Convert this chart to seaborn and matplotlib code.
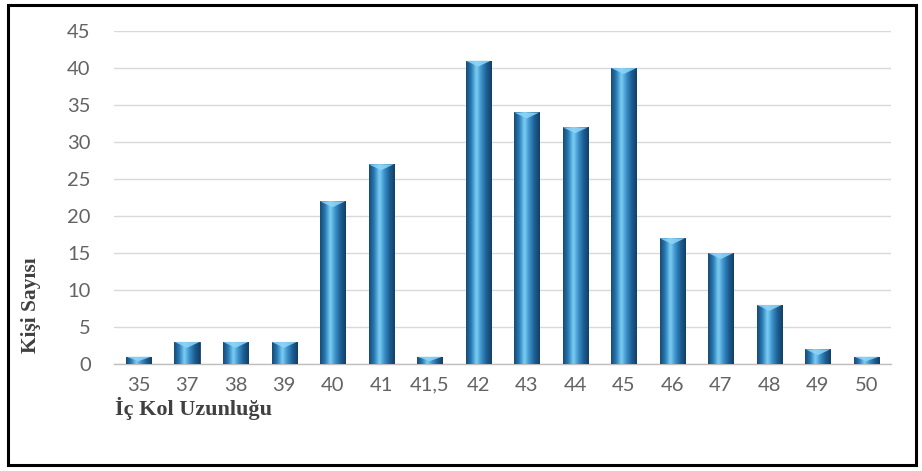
import numpy as np
import pandas as pd
import matplotlib
matplotlib.use("Agg")
import matplotlib.pyplot as plt
from matplotlib.colors import LinearSegmentedColormap
from matplotlib.patches import Rectangle, Polygon
import seaborn as sns

sns.set_style("white")

categories = ["35", "37", "38", "39", "40", "41", "41,5", "42", "43", "44",
              "45", "46", "47", "48", "49", "50"]
counts = [1, 3, 3, 3, 22, 27, 1, 41, 34, 32, 40, 17, 15, 8, 2, 1]

df = pd.DataFrame({"uzunluk": categories, "kisi": counts})

fig = plt.figure(figsize=(9.22, 4.71), dpi=100)
ax = fig.add_axes([0.124, 0.227, 0.842, 0.707])

sns.barplot(data=df, x="uzunluk", y="kisi", order=categories,
            color="#2a78b4", width=0.52, ax=ax, zorder=3)

# cylinder-like shading on each bar
cyl = LinearSegmentedColormap.from_list(
    "cyl", ["#164a75", "#2a7bb6", "#7ccff4", "#3a8fc8", "#1d5f93", "#123f66"])
grad = np.linspace(0, 1, 64).reshape(1, -1)
for p in list(ax.patches):
    x0, y0 = p.get_x(), p.get_y()
    w, h = p.get_width(), p.get_height()
    im = ax.imshow(grad, cmap=cyl, aspect="auto", zorder=3,
                   extent=[x0, x0 + w, y0, y0 + h], interpolation="bicubic")
    im.set_clip_path(p)
    p.set_edgecolor("#12406a")
    p.set_linewidth(0.6)
    cap = min(0.8, h * 0.6)
    ax.add_patch(Polygon([(x0, y0 + h), (x0 + w, y0 + h), (x0 + w / 2, y0 + h - cap)],
                         closed=True, facecolor="#8fd6f7", edgecolor="none",
                         alpha=0.85, zorder=4))

ax.set_xlim(-0.5, len(categories) - 0.5)
ax.set_ylim(0, 45)
ax.set_yticks(range(0, 46, 5))
ax.yaxis.grid(True, color="#d9d9d9", linewidth=1.0, zorder=0)
ax.set_axisbelow(True)
for s in ["top", "right", "left"]:
    ax.spines[s].set_visible(False)
ax.spines["bottom"].set_color("#bfbfbf")
ax.spines["bottom"].set_linewidth(1.0)
ax.tick_params(axis="both", length=0, labelsize=14.5, labelcolor="#636363", pad=9)
ax.tick_params(axis="y", pad=17)
for lab in ax.get_xticklabels() + ax.get_yticklabels():
    lab.set_family("Lato")
ax.set_xlabel("")
ax.set_ylabel("")

fig.text(0.034, 0.352, "Kişi Sayısı", rotation=90, ha="center", va="center",
         fontsize=15.5, fontweight="bold", family="Liberation Serif", color="#404040")
fig.text(0.125, 0.132, "İç Kol Uzunluğu", ha="left", va="center",
         fontsize=16, fontweight="bold", family="Liberation Serif", color="#404040")

fig.patches.append(Rectangle((0.009, 0.013), 0.984, 0.977, transform=fig.transFigure,
                             fill=False, edgecolor="black", linewidth=2.2))

fig.savefig("out.png", dpi=100)
